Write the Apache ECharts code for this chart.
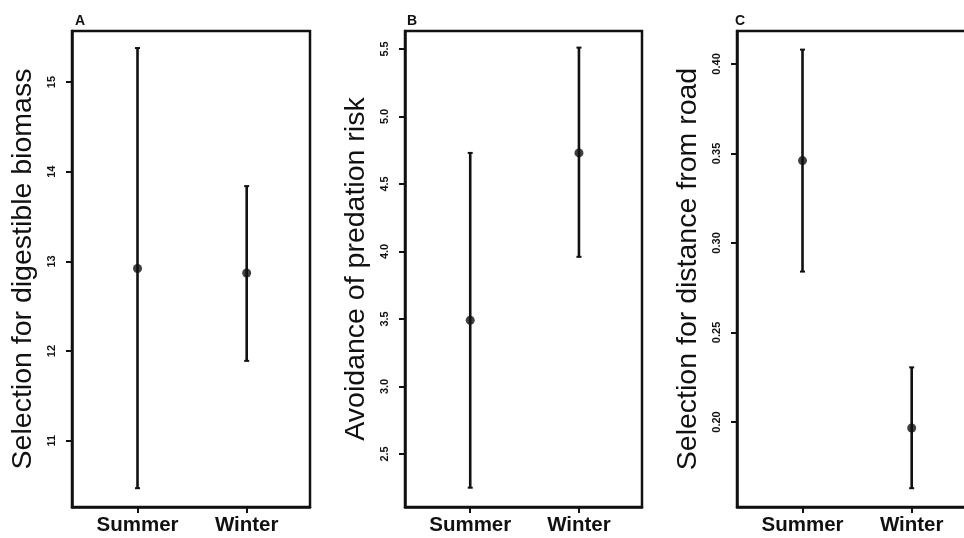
<!DOCTYPE html>
<html>
<head>
<meta charset="utf-8">
<script src="https://cdn.jsdelivr.net/npm/echarts@6/dist/echarts.min.js"></script>
<style>html,body{margin:0;padding:0;background:#fff;}#c{width:964px;height:538px;}</style>
</head>
<body>
<div id="c"></div>
<script>
var categories = ['Summer', 'Winter'];
var catPos = [1, 2];

var A_mean = [12.92, 12.87];
var A_low  = [10.47, 11.89];
var A_high = [15.38, 13.84];
var A_ticks = [11, 12, 13, 14, 15];

var B_mean = [3.49, 4.73];
var B_low  = [2.25, 3.96];
var B_high = [4.73, 5.51];
var B_ticks = [2.5, 3.0, 3.5, 4.0, 4.5, 5.0, 5.5];

var C_mean = [0.346, 0.1966];
var C_low  = [0.284, 0.163];
var C_high = [0.408, 0.2305];
var C_ticks = [0.20, 0.25, 0.30, 0.35, 0.40];

var panelLabels = ['A', 'B', 'C'];
var yTitles = ['Selection for digestible biomass', 'Avoidance of predation risk', 'Selection for distance from road'];

var panels = [
  {mean: A_mean, low: A_low, high: A_high, ticks: A_ticks, min: 10.26, max: 15.57, dec: 0, left: 72, width: 238, lab: 70},
  {mean: B_mean, low: B_low, high: B_high, ticks: B_ticks, min: 2.107, max: 5.633, dec: 1, left: 405, width: 237, lab: 402},
  {mean: C_mean, low: C_low, high: C_high, ticks: C_ticks, min: 0.1525, max: 0.4184, dec: 2, left: 737, width: 238, lab: 730}
];

var ink = '#111';
var grids = [], xAxes = [], yAxes = [], series = [], titles = [];

panels.forEach(function (p, i) {
  grids.push({left: p.left, width: p.width, top: 31, height: 476, outerBoundsMode: 'none', show: true, borderColor: ink, borderWidth: 2.5, backgroundColor: 'transparent', containLabel: false});
  xAxes.push({
    type: 'value', gridIndex: i, min: 0.4, max: 2.58,
    splitLine: {show: false},
    axisLine: {show: true, onZero: false, lineStyle: {color: ink, width: 2.5}},
    axisTick: {show: true, length: 6, lineStyle: {color: ink, width: 2}, customValues: catPos},
    axisLabel: {
      customValues: catPos, margin: 8,
      formatter: function (v) { return categories[Math.round(v) - 1] || ''; },
      color: ink, fontFamily: '"Liberation Sans", Arial, sans-serif', fontWeight: 'bold', fontSize: 20.5
    }
  });
  yAxes.push({
    type: 'value', gridIndex: i, min: p.min, max: p.max,
    name: yTitles[i], nameLocation: 'middle', nameRotate: 90, nameGap: 34,
    nameTextStyle: {color: ink, fontFamily: '"Liberation Sans", Arial, sans-serif', fontSize: 28.5},
    splitLine: {show: false},
    axisLine: {show: true, onZero: false, lineStyle: {color: ink, width: 2.5}},
    axisTick: {show: true, length: 6, lineStyle: {color: ink, width: 2}, customValues: p.ticks},
    axisLabel: {
      customValues: p.ticks, rotate: 90, margin: 15,
      formatter: (function (d) { return function (v) { return Number(v).toFixed(d); }; })(p.dec),
      color: ink, fontFamily: '"Liberation Sans", Arial, sans-serif', fontWeight: 'bold', fontSize: 11
    }
  });
  var barData = catPos.map(function (x, k) { return [x, p.low[k], p.high[k]]; });
  series.push({
    type: 'custom', xAxisIndex: i, yAxisIndex: i, data: barData, silent: true,
    renderItem: function (params, api) {
      var x = api.value(0);
      var top = api.coord([x, api.value(2)]);
      var bot = api.coord([x, api.value(1)]);
      var st = {stroke: ink, lineWidth: 2.6};
      return {type: 'group', children: [
        {type: 'line', shape: {x1: top[0], y1: top[1], x2: bot[0], y2: bot[1]}, style: st},
        {type: 'line', shape: {x1: top[0] - 2.5, y1: top[1], x2: top[0] + 2.5, y2: top[1]}, style: {stroke: ink, lineWidth: 2}},
        {type: 'line', shape: {x1: bot[0] - 2.5, y1: bot[1], x2: bot[0] + 2.5, y2: bot[1]}, style: {stroke: ink, lineWidth: 2}}
      ]};
    }
  });
  series.push({
    type: 'scatter', xAxisIndex: i, yAxisIndex: i, symbol: 'circle', symbolSize: 9, silent: true,
    itemStyle: {color: ink},
    data: catPos.map(function (x, k) { return [x, p.mean[k]]; }),
    z: 5
  });
  titles.push({text: panelLabels[i], left: p.lab, top: 9, textStyle: {color: ink, fontFamily: '"Liberation Sans", Arial, sans-serif', fontWeight: 'bold', fontSize: 14}});
});

var chart = echarts.init(document.getElementById('c'), null, {renderer: 'canvas'});
chart.setOption({
  animation: false,
  backgroundColor: '#fff',
  title: titles,
  grid: grids,
  xAxis: xAxes,
  yAxis: yAxes,
  series: series
});
</script>
</body>
</html>
